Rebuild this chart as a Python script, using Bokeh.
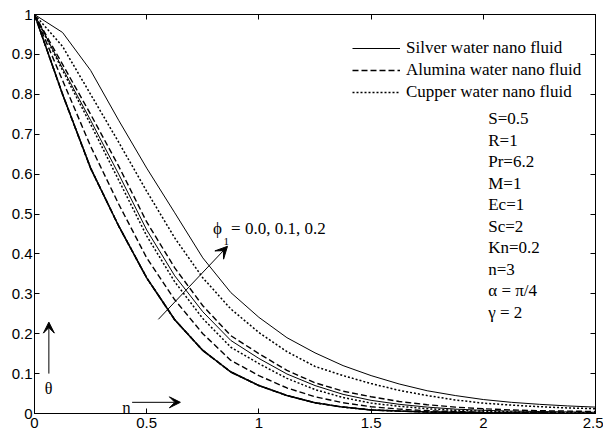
from bokeh.plotting import figure
from bokeh.models import (Range1d, FixedTicker, LinearAxis, Legend, LegendItem,
                          Label, Arrow, VeeHead)
from bokeh.embed import file_html
from bokeh.resources import INLINE

# ---------------- data ----------------
eta = [0, 0.125, 0.25, 0.375, 0.5, 0.625, 0.75, 0.875, 1.0, 1.125, 1.25, 1.375,
       1.5, 1.625, 1.75, 1.875, 2.0, 2.125, 2.25, 2.375, 2.5]

# phi1 = 0.0 : all three nano fluids coincide (pure water)
theta_phi00 = [1.0, 0.80, 0.615, 0.47, 0.34, 0.235, 0.158, 0.104, 0.070, 0.045, 0.027, 0.016,
               0.009, 0.006, 0.004, 0.003, 0.002, 0.001, 0.001, 0.0, 0.0]

theta_silver_phi01 = [1.0, 0.865, 0.735, 0.60, 0.46, 0.345, 0.255, 0.183, 0.138, 0.099, 0.070, 0.048,
                      0.033, 0.023, 0.016, 0.011, 0.008, 0.006, 0.005, 0.004, 0.003]
theta_silver_phi02 = [1.0, 0.955, 0.86, 0.735, 0.615, 0.503, 0.39, 0.303, 0.241, 0.19, 0.152, 0.12,
                      0.095, 0.074, 0.057, 0.045, 0.035, 0.028, 0.023, 0.019, 0.016]

theta_alumina_phi01 = [1.0, 0.835, 0.67, 0.525, 0.39, 0.285, 0.20, 0.133, 0.095, 0.064, 0.042, 0.027,
                       0.017, 0.011, 0.007, 0.005, 0.003, 0.002, 0.002, 0.001, 0.001]
theta_alumina_phi02 = [1.0, 0.875, 0.75, 0.62, 0.48, 0.365, 0.27, 0.195, 0.150, 0.108, 0.077, 0.056,
                       0.042, 0.030, 0.022, 0.016, 0.012, 0.009, 0.007, 0.006, 0.005]

theta_cupper_phi01 = [1.0, 0.86, 0.725, 0.585, 0.445, 0.33, 0.238, 0.166, 0.125, 0.088, 0.060, 0.040,
                      0.026, 0.018, 0.012, 0.008, 0.006, 0.004, 0.003, 0.002, 0.002]
theta_cupper_phi02 = [1.0, 0.92, 0.80, 0.68, 0.557, 0.44, 0.34, 0.262, 0.203, 0.155, 0.118, 0.095,
                      0.075, 0.058, 0.045, 0.034, 0.026, 0.021, 0.017, 0.014, 0.012]

fluid_names = ["Silver water nano fluid", "Alumina water nano fluid", "Cupper water nano fluid"]

x_ticks = [0, 0.5, 1, 1.5, 2, 2.5]
x_tick_labels = ["0", "0.5", "1", "1.5", "2", "2.5"]
y_ticks = [0, 0.1, 0.2, 0.3, 0.4, 0.5, 0.6, 0.7, 0.8, 0.9, 1.0]
y_tick_labels = ["0", "0.1", "0.2", "0.3", "0.4", "0.5", "0.6", "0.7", "0.8", "0.9", "1"]

params = ["S=0.5", "R=1", "Pr=6.2", "M=1", "Ec=1", "Sc=2", "Kn=0.2", "n=3", "\u03b1 = \u03c0/4", "\u03b3 = 2"]
phi_symbol = "\u03d5"
phi_sub = "1"
phi_values_text = "= 0.0, 0.1, 0.2"

# ---------------- figure ----------------
p = figure(width=603, height=434, x_range=Range1d(0, 2.5), y_range=Range1d(0, 1),
           output_backend="svg", toolbar_location=None,
           min_border_left=34, min_border_right=8, min_border_top=14, min_border_bottom=21)
p.xgrid.visible = False
p.ygrid.visible = False
p.outline_line_color = "black"
p.background_fill_color = "white"
p.border_fill_color = "white"

p.add_layout(LinearAxis(), "above")
p.add_layout(LinearAxis(), "right")

for ax in p.xaxis:
    ax.ticker = FixedTicker(ticks=x_ticks, minor_ticks=[])
    ax.major_label_overrides = dict(zip(x_ticks, x_tick_labels))
for ax in p.yaxis:
    ax.ticker = FixedTicker(ticks=y_ticks, minor_ticks=[])
    ax.major_label_overrides = dict(zip(y_ticks, y_tick_labels))

for ax in list(p.xaxis) + list(p.yaxis):
    ax.major_tick_in = 5
    ax.major_tick_out = 0
    ax.minor_tick_in = 0
    ax.minor_tick_out = 0
    ax.axis_line_color = "black"
    ax.major_tick_line_color = "black"
    ax.major_label_text_font = "Liberation Sans"
    ax.major_label_text_font_size = "15px"
    ax.major_label_text_color = "black"

p.below[0].major_label_standoff = 4
p.left[0].major_label_standoff = 2
for ax in (p.above[0], p.right[0]):
    ax.major_label_text_font_size = "0px"
    ax.major_label_standoff = 0
    ax.major_label_overrides = {t: "" for t in (x_ticks if ax in p.above else y_ticks)}

# ---------------- curves ----------------
dash_styles = ["solid", "6 3", "2 2"]
widths = [1.0, 1.4, 1.5]
series = [
    (theta_silver_phi01, theta_silver_phi02),
    (theta_alumina_phi01, theta_alumina_phi02),
    (theta_cupper_phi01, theta_cupper_phi02),
]
legend_renderers = []
for (s01, s02), dash, w in zip(series, dash_styles, widths):
    p.line(eta, theta_phi00, line_color="black", line_width=1.5, line_dash=dash)
    p.line(eta, s01, line_color="black", line_width=w, line_dash=dash)
    r = p.line(eta, s02, line_color="black", line_width=w, line_dash=dash)
    legend_renderers.append(r)

legend = Legend(items=[LegendItem(label=n, renderers=[r]) for n, r in zip(fluid_names, legend_renderers)],
                location=(318, 310), orientation="vertical",
                glyph_width=48, glyph_height=22, label_height=22, label_standoff=6,
                spacing=0, padding=0, margin=0, border_line_color=None,
                background_fill_alpha=0, label_text_font="Liberation Serif",
                label_text_font_size="17px", label_text_color="black")
p.add_layout(legend)

# ---------------- parameter list ----------------
param_x = 2.022
param_y0 = 0.739
param_dy = 0.0539
for i, t in enumerate(params):
    p.add_layout(Label(x=param_x, y=param_y0 - i * param_dy, text=t,
                       text_font="Liberation Serif", text_font_size="17px",
                       text_baseline="middle", text_align="left", text_color="black"))

# ---------------- annotations ----------------
p.add_layout(Label(x=0.796, y=0.4637, text=phi_symbol, text_font="Liberation Serif",
                   text_font_size="17px", text_baseline="middle", text_align="left",
                   text_color="black"))
p.add_layout(Label(x=0.842, y=0.431, text=phi_sub, text_font="Liberation Serif",
                   text_font_size="11px", text_baseline="middle", text_align="left",
                   text_color="black"))
p.add_layout(Label(x=0.876, y=0.4637, text=phi_values_text, text_font="Liberation Serif",
                   text_font_size="17px", text_baseline="middle", text_align="left",
                   text_color="black"))
p.add_layout(Arrow(end=VeeHead(size=12, fill_color="black", line_color="black"),
                   x_start=0.552, y_start=0.236, x_end=0.86, y_end=0.419,
                   line_color="black", line_width=1))

# theta arrow and label
p.add_layout(Arrow(end=VeeHead(size=11, fill_color="black", line_color="black"),
                   x_start=0.064, y_start=0.10, x_end=0.064, y_end=0.229,
                   line_color="black", line_width=1))
p.add_layout(Label(x=0.0624, y=0.063, text="\u03b8", text_font="Liberation Serif",
                   text_font_size="16px", text_baseline="alphabetic", text_align="center",
                   text_color="black"))

# eta arrow and label
p.add_layout(Arrow(end=VeeHead(size=11, fill_color="black", line_color="black"),
                   x_start=0.435, y_start=0.028, x_end=0.65, y_end=0.028,
                   line_color="black", line_width=1))
p.add_layout(Label(x=0.41, y=0.015, text="\u03b7", text_font="Liberation Serif",
                   text_font_size="16px", text_baseline="alphabetic", text_align="center",
                   text_color="black"))

open("out.html", "w").write(file_html(p, INLINE))
